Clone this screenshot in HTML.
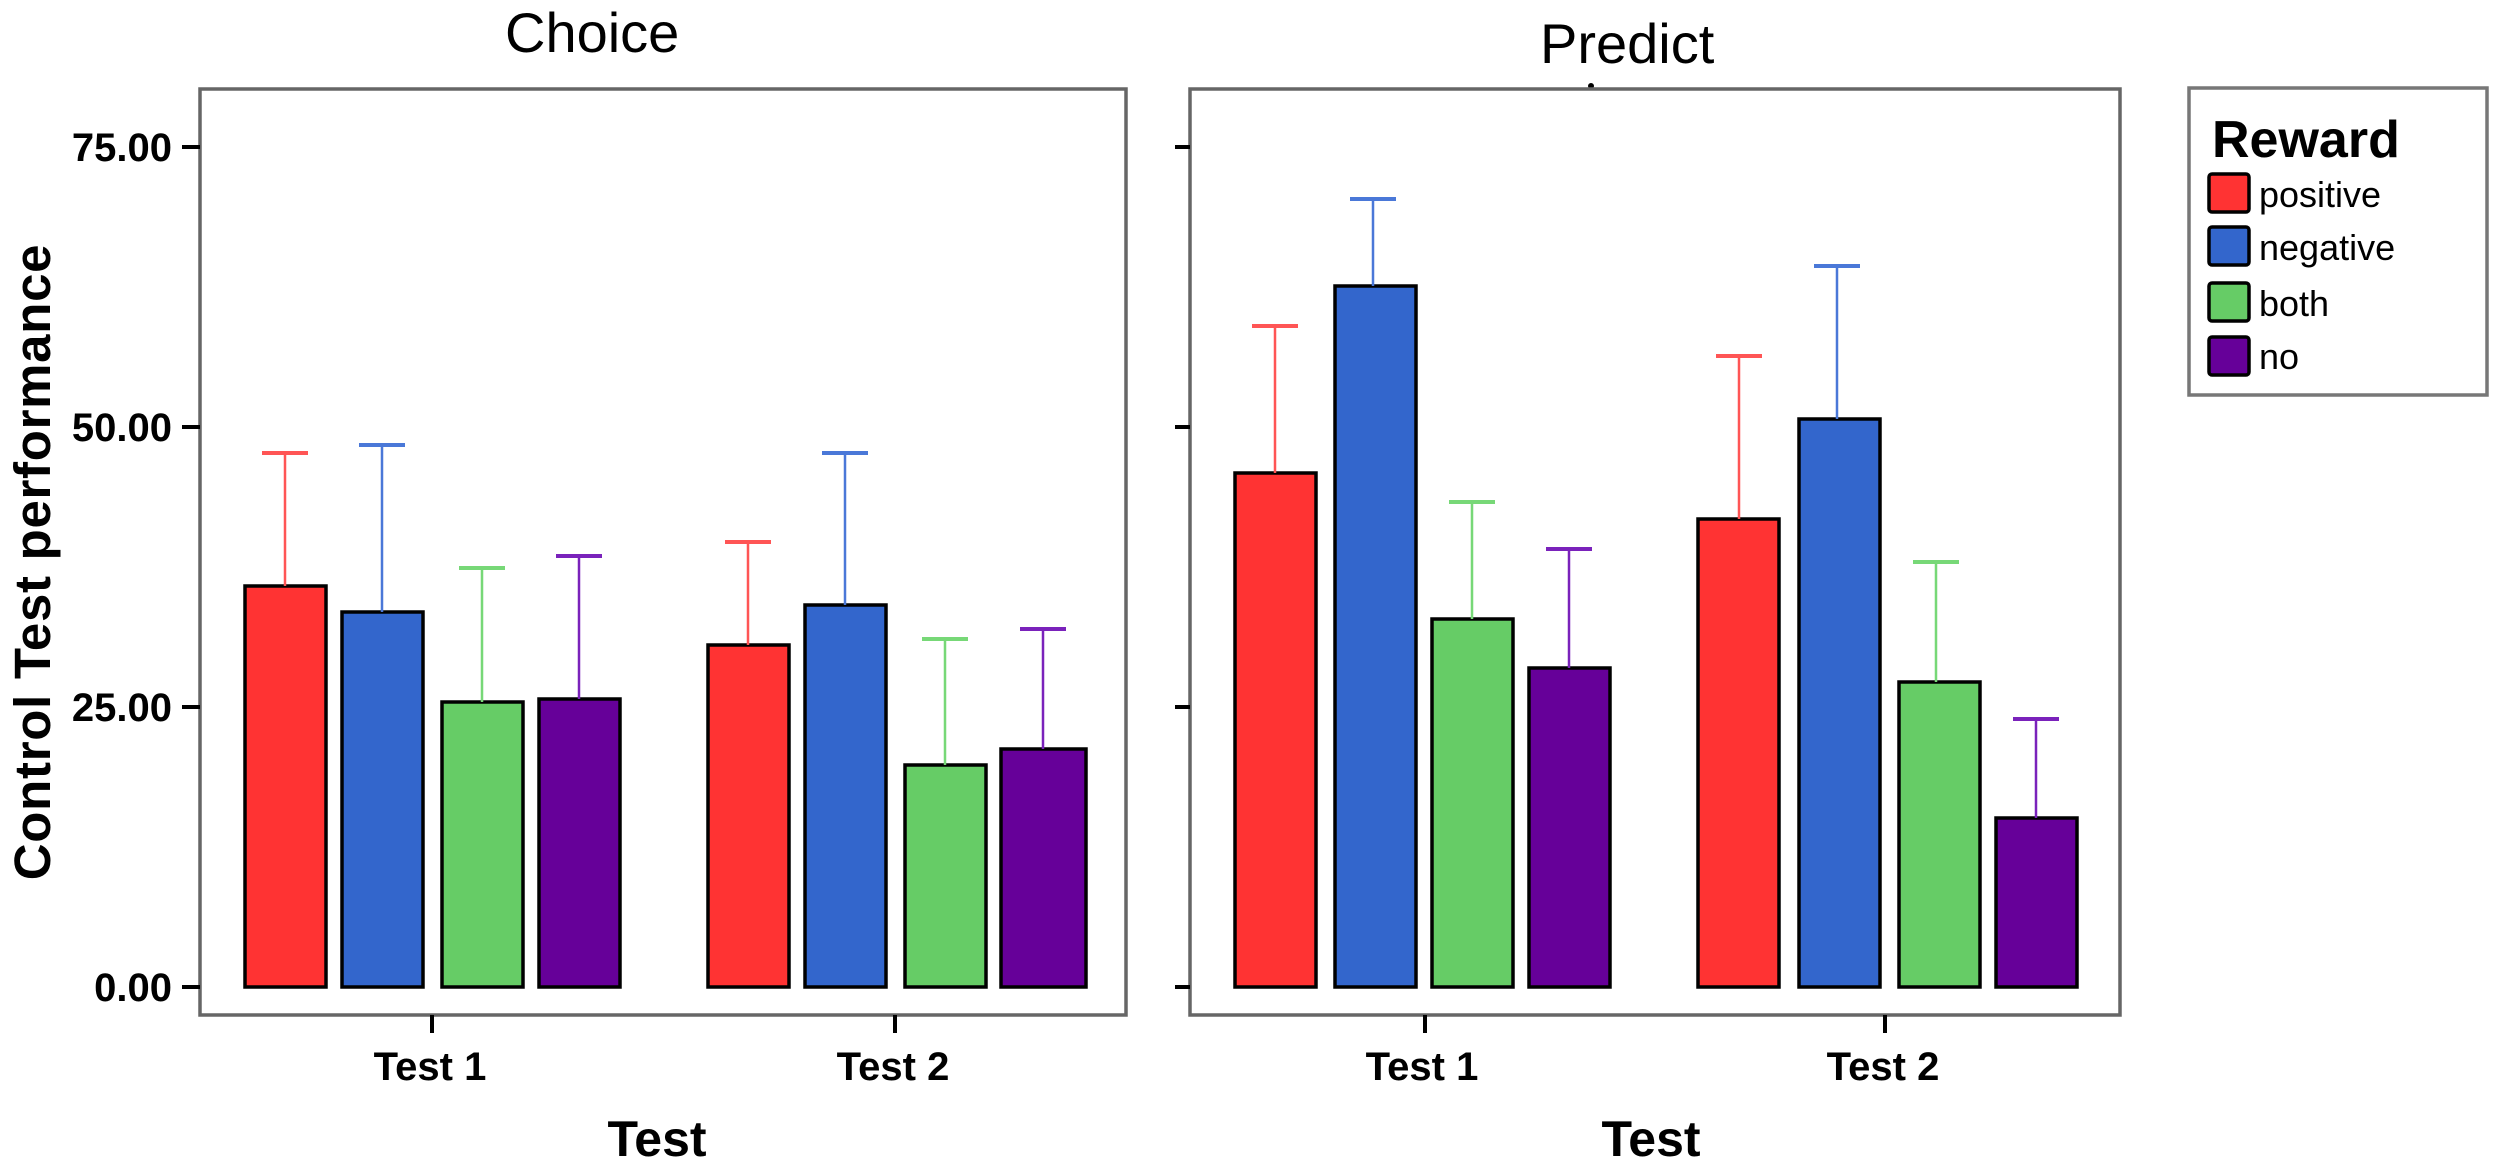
<!DOCTYPE html>
<html>
<head>
<meta charset="utf-8">
<style>
  html, body { margin: 0; padding: 0; background: #fff; }
  svg { display: block; }
  text { font-family: "Liberation Sans", Arial, sans-serif; fill: #000; }
</style>
</head>
<body>
<svg width="2500" height="1171" viewBox="0 0 2500 1171" xmlns="http://www.w3.org/2000/svg">
  <rect x="0" y="0" width="2500" height="1171" fill="#fff"/>

  <!-- Titles -->
  <text x="505" y="52" font-size="56">Choice</text>
  <text x="1540" y="63" font-size="56">Predict</text>
  <circle cx="1591" cy="86" r="3" fill="#000"/>

  <!-- Panel frames -->
  <rect x="200" y="89" width="926" height="926" fill="none" stroke="#666" stroke-width="3.5"/>
  <rect x="1190" y="89" width="930" height="926" fill="none" stroke="#666" stroke-width="3.5"/>

  <!-- Y ticks left -->
  <g stroke="#000" stroke-width="4">
    <line x1="182" y1="147" x2="200" y2="147"/>
    <line x1="182" y1="427" x2="200" y2="427"/>
    <line x1="182" y1="707" x2="200" y2="707"/>
    <line x1="182" y1="987" x2="200" y2="987"/>
    <line x1="1175" y1="147" x2="1190" y2="147"/>
    <line x1="1175" y1="427" x2="1190" y2="427"/>
    <line x1="1175" y1="707" x2="1190" y2="707"/>
    <line x1="1175" y1="987" x2="1190" y2="987"/>
    <!-- X ticks -->
    <line x1="432" y1="1015" x2="432" y2="1033"/>
    <line x1="895" y1="1015" x2="895" y2="1033"/>
    <line x1="1425" y1="1015" x2="1425" y2="1033"/>
    <line x1="1885" y1="1015" x2="1885" y2="1033"/>
  </g>

  <!-- Y tick labels -->
  <g font-size="40" font-weight="bold" text-anchor="end">
    <text x="172" y="161">75.00</text>
    <text x="172" y="441">50.00</text>
    <text x="172" y="721">25.00</text>
    <text x="172" y="1001">0.00</text>
  </g>

  <!-- Y axis title -->
  <text transform="translate(50,562) rotate(-90)" text-anchor="middle" font-size="51" font-weight="bold" letter-spacing="0.7">Control Test performance</text>

  <!-- X tick labels -->
  <g font-size="40" font-weight="bold" text-anchor="middle">
    <text x="430" y="1080">Test 1</text>
    <text x="893" y="1080">Test 2</text>
    <text x="1422" y="1080">Test 1</text>
    <text x="1883" y="1080">Test 2</text>
  </g>
  <!-- X axis titles -->
  <g font-size="50" font-weight="bold" text-anchor="middle">
    <text x="657" y="1156">Test</text>
    <text x="1651" y="1156">Test</text>
  </g>

  <!-- Bars: y(v) = 987 - 11.2*v -->
  <g stroke="#000" stroke-width="3.5">
    <!-- Choice Test 1 -->
    <rect x="245" y="586" width="81" height="401" fill="#FF3333"/>
    <rect x="342" y="612" width="81" height="375" fill="#3366CC"/>
    <rect x="442" y="702" width="81" height="285" fill="#66CC66"/>
    <rect x="539" y="699" width="81" height="288" fill="#660099"/>
    <!-- Choice Test 2 -->
    <rect x="708" y="645" width="81" height="342" fill="#FF3333"/>
    <rect x="805" y="605" width="81" height="382" fill="#3366CC"/>
    <rect x="905" y="765" width="81" height="222" fill="#66CC66"/>
    <rect x="1001" y="749" width="85" height="238" fill="#660099"/>
    <!-- Predict Test 1 -->
    <rect x="1235" y="473" width="81" height="514" fill="#FF3333"/>
    <rect x="1335" y="286" width="81" height="701" fill="#3366CC"/>
    <rect x="1432" y="619" width="81" height="368" fill="#66CC66"/>
    <rect x="1529" y="668" width="81" height="319" fill="#660099"/>
    <!-- Predict Test 2 -->
    <rect x="1698" y="519" width="81" height="468" fill="#FF3333"/>
    <rect x="1799" y="419" width="81" height="568" fill="#3366CC"/>
    <rect x="1899" y="682" width="81" height="305" fill="#66CC66"/>
    <rect x="1996" y="818" width="81" height="169" fill="#660099"/>
  </g>

  <!-- Error bars -->
  <g fill="none">
    <!-- Choice Test 1 -->
    <g stroke="#FF5555"><line x1="285" y1="586" x2="285" y2="453" stroke-width="2.5"/><line x1="262" y1="453" x2="308" y2="453" stroke-width="4"/></g>
    <g stroke="#4A78D8"><line x1="382" y1="612" x2="382" y2="445" stroke-width="2.5"/><line x1="359" y1="445" x2="405" y2="445" stroke-width="4"/></g>
    <g stroke="#77D877"><line x1="482" y1="702" x2="482" y2="568" stroke-width="2.5"/><line x1="459" y1="568" x2="505" y2="568" stroke-width="4"/></g>
    <g stroke="#7A22BB"><line x1="579" y1="699" x2="579" y2="556" stroke-width="2.5"/><line x1="556" y1="556" x2="602" y2="556" stroke-width="4"/></g>
    <!-- Choice Test 2 -->
    <g stroke="#FF5555"><line x1="748" y1="645" x2="748" y2="542" stroke-width="2.5"/><line x1="725" y1="542" x2="771" y2="542" stroke-width="4"/></g>
    <g stroke="#4A78D8"><line x1="845" y1="605" x2="845" y2="453" stroke-width="2.5"/><line x1="822" y1="453" x2="868" y2="453" stroke-width="4"/></g>
    <g stroke="#77D877"><line x1="945" y1="765" x2="945" y2="639" stroke-width="2.5"/><line x1="922" y1="639" x2="968" y2="639" stroke-width="4"/></g>
    <g stroke="#7A22BB"><line x1="1043" y1="749" x2="1043" y2="629" stroke-width="2.5"/><line x1="1020" y1="629" x2="1066" y2="629" stroke-width="4"/></g>
    <!-- Predict Test 1 -->
    <g stroke="#FF5555"><line x1="1275" y1="473" x2="1275" y2="326" stroke-width="2.5"/><line x1="1252" y1="326" x2="1298" y2="326" stroke-width="4"/></g>
    <g stroke="#4A78D8"><line x1="1373" y1="286" x2="1373" y2="199" stroke-width="2.5"/><line x1="1350" y1="199" x2="1396" y2="199" stroke-width="4"/></g>
    <g stroke="#77D877"><line x1="1472" y1="619" x2="1472" y2="502" stroke-width="2.5"/><line x1="1449" y1="502" x2="1495" y2="502" stroke-width="4"/></g>
    <g stroke="#7A22BB"><line x1="1569" y1="668" x2="1569" y2="549" stroke-width="2.5"/><line x1="1546" y1="549" x2="1592" y2="549" stroke-width="4"/></g>
    <!-- Predict Test 2 -->
    <g stroke="#FF5555"><line x1="1739" y1="519" x2="1739" y2="356" stroke-width="2.5"/><line x1="1716" y1="356" x2="1762" y2="356" stroke-width="4"/></g>
    <g stroke="#4A78D8"><line x1="1837" y1="419" x2="1837" y2="266" stroke-width="2.5"/><line x1="1814" y1="266" x2="1860" y2="266" stroke-width="4"/></g>
    <g stroke="#77D877"><line x1="1936" y1="682" x2="1936" y2="562" stroke-width="2.5"/><line x1="1913" y1="562" x2="1959" y2="562" stroke-width="4"/></g>
    <g stroke="#7A22BB"><line x1="2036" y1="818" x2="2036" y2="719" stroke-width="2.5"/><line x1="2013" y1="719" x2="2059" y2="719" stroke-width="4"/></g>
  </g>

  <!-- Legend -->
  <rect x="2189" y="88" width="298" height="307" fill="#fff" stroke="#777" stroke-width="3.5"/>
  <text x="2212" y="157" font-size="52" font-weight="bold">Reward</text>
  <g stroke="#000" stroke-width="3.5">
    <rect x="2209" y="174" width="40" height="38" rx="3" fill="#FF3333"/>
    <rect x="2209" y="227" width="40" height="38" rx="3" fill="#3366CC"/>
    <rect x="2209" y="283" width="40" height="38" rx="3" fill="#66CC66"/>
    <rect x="2209" y="337" width="40" height="38" rx="3" fill="#660099"/>
  </g>
  <g font-size="36">
    <text x="2259" y="207">positive</text>
    <text x="2259" y="260">negative</text>
    <text x="2259" y="316">both</text>
    <text x="2259" y="369">no</text>
  </g>
</svg>
</body>
</html>
